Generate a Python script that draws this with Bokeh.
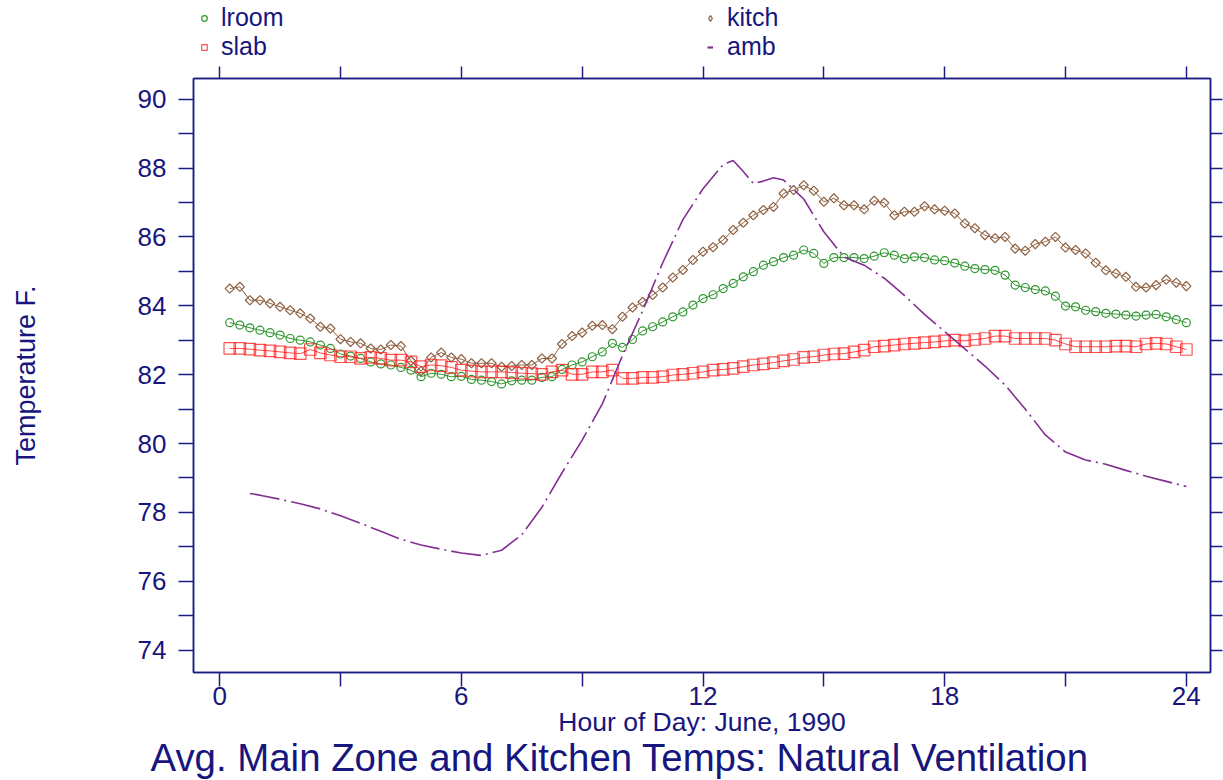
from bokeh.plotting import figure
from bokeh.layouts import column
from bokeh.models import (Range1d, FixedTicker, LinearAxis, Legend, LegendItem, Title,
                          CustomJSTickFormatter)
from bokeh.embed import file_html
from bokeh.resources import INLINE
import math

# 15-minute readings through the day (hour of day)
hours = [0.25 * (i + 1) for i in range(96)]

lroom = [
    83.51, 83.44, 83.36, 83.29, 83.22, 83.15, 83.05, 83.00, 82.95, 82.86, 82.76, 82.60,
    82.54, 82.47, 82.37, 82.31, 82.28, 82.21, 82.13, 81.94, 82.04, 82.01, 81.94, 81.95,
    81.86, 81.84, 81.80, 81.73, 81.82, 81.84, 81.84, 81.92, 81.94, 82.15, 82.28, 82.37,
    82.52, 82.66, 82.91, 82.79, 83.02, 83.27, 83.39, 83.53, 83.68, 83.82, 84.02, 84.21,
    84.32, 84.50, 84.65, 84.84, 84.99, 85.18, 85.28, 85.40, 85.47, 85.62, 85.52, 85.23,
    85.40, 85.40, 85.40, 85.37, 85.44, 85.54, 85.47, 85.37, 85.42, 85.40, 85.33, 85.31,
    85.24, 85.15, 85.08, 85.05, 85.03, 84.89, 84.60, 84.53, 84.47, 84.43, 84.28, 83.99,
    83.97, 83.87, 83.83, 83.78, 83.76, 83.73, 83.70, 83.73, 83.75, 83.68, 83.60, 83.51,
]

kitch = [
    84.50, 84.55, 84.16, 84.16, 84.07, 83.97, 83.87, 83.78, 83.63, 83.39, 83.34, 83.03,
    82.95, 82.91, 82.76, 82.73, 82.86, 82.83, 82.40, 82.10, 82.50, 82.64, 82.50, 82.45,
    82.33, 82.33, 82.33, 82.23, 82.25, 82.28, 82.28, 82.47, 82.47, 82.89, 83.12, 83.22,
    83.42, 83.44, 83.32, 83.68, 83.95, 84.11, 84.31, 84.53, 84.82, 85.04, 85.33, 85.57,
    85.70, 85.91, 86.20, 86.41, 86.63, 86.78, 86.87, 87.26, 87.36, 87.50, 87.34, 87.02,
    87.12, 86.92, 86.92, 86.80, 87.05, 86.99, 86.63, 86.73, 86.73, 86.89, 86.80, 86.76,
    86.68, 86.39, 86.25, 86.05, 85.96, 86.00, 85.66, 85.60, 85.79, 85.86, 86.00, 85.69,
    85.62, 85.52, 85.25, 85.03, 84.94, 84.84, 84.55, 84.53, 84.60, 84.76, 84.67, 84.57,
]

slab = [
    82.76, 82.76, 82.74, 82.71, 82.69, 82.66, 82.63, 82.61, 82.73, 82.63, 82.57, 82.52,
    82.52, 82.47, 82.50, 82.47, 82.42, 82.42, 82.37, 82.23, 82.28, 82.26, 82.21, 82.13,
    82.10, 82.08, 82.08, 82.08, 82.06, 82.04, 82.03, 82.01, 82.08, 82.13, 82.01, 82.01,
    82.08, 82.08, 82.13, 81.89, 81.89, 81.92, 81.92, 81.94, 81.99, 82.01, 82.04, 82.08,
    82.13, 82.15, 82.18, 82.23, 82.28, 82.31, 82.35, 82.40, 82.44, 82.50, 82.52, 82.57,
    82.60, 82.61, 82.66, 82.71, 82.81, 82.83, 82.86, 82.89, 82.91, 82.93, 82.95, 82.98,
    83.00, 82.98, 83.02, 83.05, 83.12, 83.12, 83.05, 83.05, 83.05, 83.05, 83.00, 82.89,
    82.81, 82.81, 82.81, 82.81, 82.83, 82.83, 82.81, 82.89, 82.91, 82.89, 82.81, 82.73,
]

amb_hours = [
    0.75, 1.0, 1.5, 2.0, 2.5, 3.0, 3.5, 4.0, 4.5, 5.0, 5.5, 6.0, 6.5, 7.0, 7.5, 8.0,
    8.5, 9.0, 9.5, 10.0, 10.5, 11.0, 11.5, 12.0, 12.5, 12.75, 13.0, 13.25, 13.5, 13.75,
    14.0, 14.5, 15.0, 15.5, 16.0, 16.5, 17.0, 17.5, 18.0, 18.5, 19.0, 19.5, 20.0, 20.5,
    21.0, 21.5, 22.0, 22.5, 23.0, 23.5, 24.0,
]
amb = [
    78.55, 78.50, 78.38, 78.25, 78.10, 77.90, 77.68, 77.45, 77.22, 77.05, 76.93, 76.82,
    76.75, 76.90, 77.35, 78.15, 79.15, 80.10, 81.15, 82.55, 83.85, 85.25, 86.50, 87.40,
    88.10, 88.22, 87.90, 87.55, 87.62, 87.72, 87.65, 87.10, 86.15, 85.42, 85.18, 84.80,
    84.30, 83.75, 83.25, 82.75, 82.25, 81.70, 81.00, 80.25, 79.75, 79.52, 79.40, 79.22,
    79.05, 78.90, 78.75,
]

x_major = [0, 6, 12, 18, 24]
x_minor = [3, 9, 15, 21]
y_major = [74, 76, 78, 80, 82, 84, 86, 88, 90]
y_minor = [75, 77, 79, 81, 83, 85, 87, 89]

NAVY = "#1c1c86"
TEXT = "#16167e"
GREEN = "#2f962f"
BROWN = "#8e6040"
RED = "#ff1a1a"
PURPLE = "#832f92"
FONT = "Liberation Sans"
W = 1223

LROOM_STYLE = dict(marker="circle", size=8, fill_color=None, line_color=GREEN, line_width=1.2)
KITCH_STYLE = dict(marker="square", angle=math.pi / 4, size=6.5, fill_color=None,
                   line_color=BROWN, line_width=1.2)
SLAB_STYLE = dict(marker="square", size=11.5, fill_color=None, line_color=RED,
                  line_width=1.2, line_alpha=0.75)
AMB_STYLE = dict(line_color=PURPLE, line_width=1.6, line_dash="30 5 2 5")

# ---- legend strip above the chart (its frame lines up with the chart's frame;
# the series drawn here fall outside its 0..1 ranges, only their legend glyphs show)
leg = figure(width=W, height=66, output_backend="svg", toolbar_location=None,
             x_axis_location=None, y_axis_location=None, min_border=0,
             x_range=Range1d(0, 1), y_range=Range1d(0, 1))
leg.grid.visible = False
leg.outline_line_color = None
g_lroom = leg.scatter(hours, lroom, **LROOM_STYLE)
g_slab = leg.scatter(hours, slab, **SLAB_STYLE)
g_kitch = leg.scatter(hours, kitch, marker="diamond", size=10, fill_color=None,
                      line_color=BROWN, line_width=1.2)
g_amb = leg.line(amb_hours, amb, line_color=PURPLE, line_width=2.2)


def legend_entry(label, renderer, x, y, glyph_width=14, standoff=10):
    return Legend(
        items=[LegendItem(label=label, renderers=[renderer])],
        location=(x, y), orientation="vertical",
        label_text_font=FONT, label_text_font_size="25px", label_text_color=TEXT,
        label_height=26, glyph_height=14, glyph_width=glyph_width,
        label_standoff=standoff,
        spacing=0, padding=0, margin=0,
        border_line_color=None, background_fill_alpha=0,
    )


leg.add_layout(legend_entry("lroom", g_lroom, 4, 34))
leg.add_layout(legend_entry("slab", g_slab, 4, 5))
leg.add_layout(legend_entry("kitch", g_kitch, 510, 34))
leg.add_layout(legend_entry("amb", g_amb, 514, 5, glyph_width=6, standoff=14))

# ---- main chart
p = figure(
    width=W, height=714,
    x_range=Range1d(-0.65, 24.6), y_range=Range1d(73.35, 90.6),
    output_backend="svg", toolbar_location=None,
    min_border_left=193, min_border_right=13, min_border_top=12, min_border_bottom=108,
    background_fill_color="white", border_fill_color="white",
)
p.grid.visible = False
p.outline_line_color = NAVY
p.outline_line_width = 1.5


def style_axis(ax, tick_len):
    ax.axis_line_color = NAVY
    ax.axis_line_width = 1.5
    ax.major_tick_line_color = NAVY
    ax.minor_tick_line_color = NAVY
    ax.major_tick_line_width = 1.5
    ax.minor_tick_line_width = 1.5
    ax.major_tick_in = 0
    ax.minor_tick_in = 0
    ax.major_tick_out = tick_len
    ax.minor_tick_out = tick_len
    ax.major_label_text_color = TEXT
    ax.major_label_text_font = FONT
    ax.major_label_text_font_size = "26px"
    ax.axis_label_text_color = TEXT
    ax.axis_label_text_font = FONT
    ax.axis_label_text_font_style = "normal"


def ticks_only(ax):
    ax.formatter = CustomJSTickFormatter(code="return ''")
    ax.major_label_text_font_size = "0px"
    ax.major_label_standoff = 0


xax = p.xaxis[0]
xax.ticker = FixedTicker(ticks=x_major, minor_ticks=x_minor)
style_axis(xax, 14)
xax.major_label_standoff = 0
xax.axis_label = "Hour of Day: June, 1990"
xax.axis_label_text_font_size = "26.5px"
xax.axis_label_standoff = -1

yax = p.yaxis[0]
yax.ticker = FixedTicker(ticks=y_major, minor_ticks=y_minor)
style_axis(yax, 15)
yax.major_label_standoff = 12
yax.axis_label = "Temperature F."
yax.axis_label_text_font_size = "27px"
yax.axis_label_standoff = 94

right_ax = LinearAxis(ticker=FixedTicker(ticks=y_major, minor_ticks=y_minor))
style_axis(right_ax, 12)
ticks_only(right_ax)
p.add_layout(right_ax, "right")

top_ax = LinearAxis(ticker=FixedTicker(ticks=x_major, minor_ticks=x_minor))
style_axis(top_ax, 12)
ticks_only(top_ax)
p.add_layout(top_ax, "above")

p.line(hours, lroom, line_color=GREEN, line_width=1)
p.scatter(hours, lroom, **LROOM_STYLE)

p.line(hours, kitch, line_color=BROWN, line_width=1)
p.scatter(hours, kitch, **KITCH_STYLE)

p.line(hours, slab, line_color=RED, line_width=1, line_alpha=0.8)
p.scatter(hours, slab, **SLAB_STYLE)

p.line(amb_hours, amb, **AMB_STYLE)

p.add_layout(Title(text="Avg. Main Zone and Kitchen Temps: Natural Ventilation",
                   text_font=FONT, text_font_size="38.4px", text_color=TEXT,
                   text_font_style="normal", align="left", offset=-43,
                   standoff=-12), "below")

page = column(leg, p, spacing=0)
open("out.html", "w").write(file_html(page, INLINE))
